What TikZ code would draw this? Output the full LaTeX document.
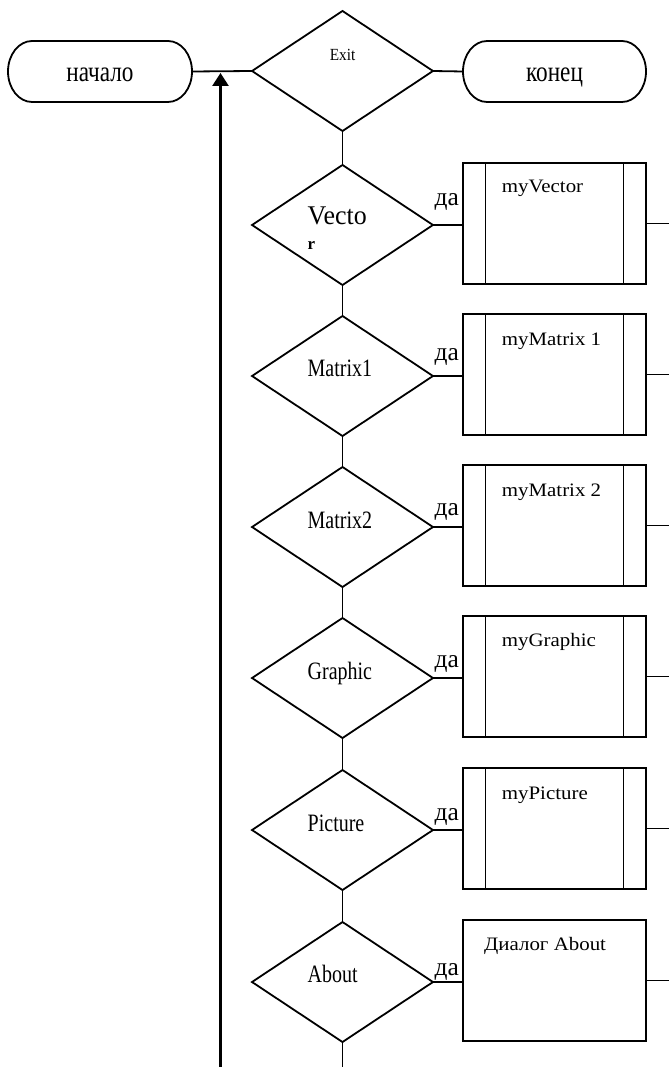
\documentclass[tikz,border=0pt]{standalone}
\usepackage{fontspec}
\setmainfont{Liberation Serif}
\newfontfamily\condserif{Liberation Serif}[FakeStretch=0.8]
\newfontfamily\exitserif{Liberation Serif}[FakeStretch=0.9]
\newfontfamily\vecserif{Liberation Serif}[FakeStretch=0.96]
\newfontfamily\wideserif{Liberation Serif}[FakeStretch=1.1]
\usetikzlibrary{shapes.geometric,arrows.meta}

\begin{document}
\begin{tikzpicture}[x=1pt,y=-1pt,
  line/.style={line width=1.8pt},
  termbox/.style={rectangle, minimum width=184pt, minimum height=61pt, inner sep=0pt, outer sep=0pt},
  decision/.style={diamond, draw, line width=1.8pt, minimum width=181pt, minimum height=120pt, inner sep=0pt, outer sep=0pt},
  process/.style={rectangle, draw, line width=1.8pt, minimum width=183pt, minimum height=121pt, inner sep=0pt, outer sep=0pt},
  termtext/.style={inner sep=0pt, anchor=base, font={\condserif\fontsize{29}{34}\selectfont}},
  dtext/.style={inner sep=0pt, anchor=base west, font={\condserif\fontsize{25}{30}\selectfont}},
  ptext/.style={inner sep=0pt, anchor=base west, font={\wideserif\fontsize{19}{23}\selectfont}},
  yes/.style={inner sep=0pt, anchor=base west, font={\fontsize{25.5}{30}\selectfont}},
]
\useasboundingbox (0,0) rectangle (669,1067);

% terminators (drawn as rectangles with elliptic ends)
\node[termbox] (start) at (100,71.5) {};
\node[termbox, minimum width=183pt] (stop) at (554.5,71.5) {};
\foreach \t in {start,stop}{
  \draw[line] ([xshift=24pt]\t.north west) -- ([xshift=-24pt]\t.north east)
    arc[start angle=90, end angle=-90, x radius=24pt, y radius=30.5pt]
    -- ([xshift=24pt]\t.south west)
    arc[start angle=270, end angle=90, x radius=24pt, y radius=30.5pt] -- cycle;
}
\node[termtext] (startlbl) at (100,81.7) {начало};
\node[termtext] (stoplbl) at (554.5,81.7) {конец};

% main menu decision
\node[decision] (exit) at (342.5,71) {};
\node[inner sep=0pt, anchor=base, font={\exitserif\fontsize{17}{20}\selectfont}] (exitlbl) at (342.5,60.7) {Exit};

% menu item decisions
\node[decision] (d1) at (342.5,225) {};
\node[decision] (d2) at (342.5,376) {};
\node[decision] (d3) at (342.5,527) {};
\node[decision] (d4) at (342.5,678) {};
\node[decision] (d5) at (342.5,830) {};
\node[decision] (d6) at (342.5,982) {};

\node[inner sep=0pt, anchor=base west, font={\vecserif\fontsize{27}{30}\selectfont}] (t1) at (307.5,224.3) {Vecto};
\node[inner sep=0pt, anchor=base west, font={\bfseries\fontsize{17}{19}\selectfont}] (t1b) at (307.5,250) {r};
\node[dtext] (t2) at (307.5,376.5) {Matrix1};
\node[dtext] (t3) at (307.5,528) {Matrix2};
\node[dtext] (t4) at (307.5,679) {Graphic};
\node[dtext] (t5) at (307.5,831) {Picture};
\node[dtext] (t6) at (307.5,982) {About};

% handlers
\node[process] (b1) at (554.5,223.5) {};
\node[process] (b2) at (554.5,374.5) {};
\node[process] (b3) at (554.5,525.5) {};
\node[process] (b4) at (554.5,676.5) {};
\node[process] (b5) at (554.5,828.5) {};
\node[process] (b6) at (554.5,980.5) {};
\foreach \b in {b1,b2,b3,b4,b5}{
  \draw[line] ([xshift=22.5pt]\b.north west) -- ([xshift=22.5pt]\b.south west);
  \draw[line] ([xshift=-22.5pt]\b.north east) -- ([xshift=-22.5pt]\b.south east);
}
\node[ptext] (p1) at (501.7,192.3) {myVector};
\node[ptext] (p2) at (501.7,345) {myMatrix 1};
\node[ptext] (p3) at (501.7,496) {myMatrix 2};
\node[ptext] (p4) at (501.7,646.7) {myGraphic};
\node[ptext] (p5) at (501.7,799) {myPicture};
\node[ptext] (p6) at (484,950.7) {Диалог About};

% "yes" labels
\node[yes] (y1) at (434.5,206) {да};
\node[yes] (y2) at (434.5,360) {да};
\node[yes] (y3) at (434.5,515) {да};
\node[yes] (y4) at (434.5,667) {да};
\node[yes] (y5) at (434.5,820) {да};
\node[yes] (y6) at (434.5,975) {да};

% free ends
\coordinate (edge) at (669,0);
\coordinate (bottom) at (342.5,1067);
\coordinate (loopbot) at (220.5,1067);
\coordinate (loopin) at (220.5,73);

% connectors
\draw[line] (start.east) -- (exit.west);
\draw[line] (exit.east) -- (stop.west);
\draw[line] (exit.south) -- (d1.north);
\foreach \a/\b in {d1/d2,d2/d3,d3/d4,d4/d5,d5/d6}{
  \draw[line] (\a.south) -- (\b.north);
}
\draw[line] (d6.south) -- (bottom);
\foreach \i in {1,...,6}{
  \draw[line] (d\i.east) -- (d\i.east -| b\i.west);
  \draw[line] (b\i.east) -- (b\i.east -| edge);
}
\draw[line width=2.6pt, -{Triangle[length=13pt, width=16pt]}] (loopbot) -- (loopin);
\end{tikzpicture}
\end{document}
